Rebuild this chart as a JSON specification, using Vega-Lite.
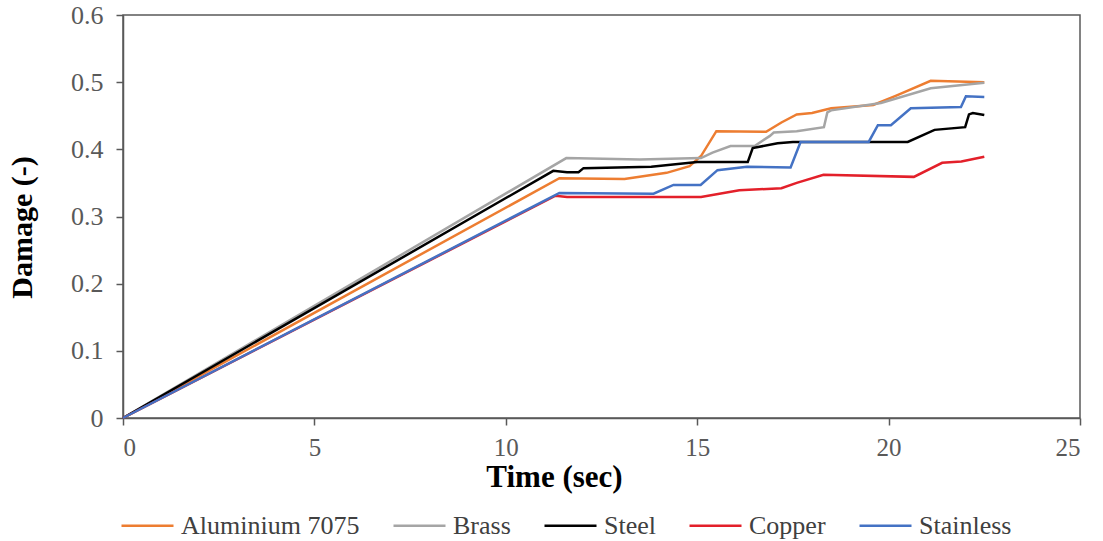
{
  "$schema": "https://vega.github.io/schema/vega-lite/v6.json",
  "width": 957,
  "height": 403,
  "autosize": {"type": "none"},
  "padding": {"left": 123, "top": 15, "right": 23, "bottom": 123},
  "background": "white",
  "config": {
    "view": {"stroke": "#595959", "strokeWidth": 1.5},
    "font": "Liberation Serif"
  },
  "data": {
    "values": [
      {"s": "Aluminium 7075", "t": 0, "d": 0},
      {"s": "Aluminium 7075", "t": 11.4, "d": 0.357},
      {"s": "Aluminium 7075", "t": 13.1, "d": 0.356},
      {"s": "Aluminium 7075", "t": 14.2, "d": 0.365},
      {"s": "Aluminium 7075", "t": 14.8, "d": 0.375},
      {"s": "Aluminium 7075", "t": 15.1, "d": 0.39},
      {"s": "Aluminium 7075", "t": 15.5, "d": 0.427},
      {"s": "Aluminium 7075", "t": 16.8, "d": 0.426},
      {"s": "Aluminium 7075", "t": 17.2, "d": 0.44},
      {"s": "Aluminium 7075", "t": 17.6, "d": 0.452},
      {"s": "Aluminium 7075", "t": 18.0, "d": 0.454},
      {"s": "Aluminium 7075", "t": 18.5, "d": 0.461},
      {"s": "Aluminium 7075", "t": 19.6, "d": 0.466},
      {"s": "Aluminium 7075", "t": 20.2, "d": 0.48},
      {"s": "Aluminium 7075", "t": 21.1, "d": 0.502},
      {"s": "Aluminium 7075", "t": 22.5, "d": 0.5},
      {"s": "Brass", "t": 0, "d": 0},
      {"s": "Brass", "t": 11.58, "d": 0.387},
      {"s": "Brass", "t": 13.5, "d": 0.385},
      {"s": "Brass", "t": 15.1, "d": 0.387},
      {"s": "Brass", "t": 15.4, "d": 0.395},
      {"s": "Brass", "t": 15.87, "d": 0.405},
      {"s": "Brass", "t": 16.5, "d": 0.405},
      {"s": "Brass", "t": 16.9, "d": 0.42},
      {"s": "Brass", "t": 17.0, "d": 0.425},
      {"s": "Brass", "t": 17.6, "d": 0.427},
      {"s": "Brass", "t": 18.31, "d": 0.433},
      {"s": "Brass", "t": 18.4, "d": 0.455},
      {"s": "Brass", "t": 18.5, "d": 0.458},
      {"s": "Brass", "t": 19.8, "d": 0.469},
      {"s": "Brass", "t": 21.1, "d": 0.491},
      {"s": "Brass", "t": 22.5, "d": 0.499},
      {"s": "Steel", "t": 0, "d": 0},
      {"s": "Steel", "t": 11.24, "d": 0.368},
      {"s": "Steel", "t": 11.6, "d": 0.366},
      {"s": "Steel", "t": 11.9, "d": 0.366},
      {"s": "Steel", "t": 12.03, "d": 0.372},
      {"s": "Steel", "t": 13.8, "d": 0.374},
      {"s": "Steel", "t": 15.0, "d": 0.381},
      {"s": "Steel", "t": 16.32, "d": 0.381},
      {"s": "Steel", "t": 16.45, "d": 0.402},
      {"s": "Steel", "t": 17.1, "d": 0.409},
      {"s": "Steel", "t": 17.5, "d": 0.411},
      {"s": "Steel", "t": 20.5, "d": 0.411},
      {"s": "Steel", "t": 21.2, "d": 0.429},
      {"s": "Steel", "t": 22.0, "d": 0.433},
      {"s": "Steel", "t": 22.1, "d": 0.452},
      {"s": "Steel", "t": 22.2, "d": 0.454},
      {"s": "Steel", "t": 22.5, "d": 0.451},
      {"s": "Copper", "t": 0, "d": 0},
      {"s": "Copper", "t": 11.3, "d": 0.331},
      {"s": "Copper", "t": 11.6, "d": 0.329},
      {"s": "Copper", "t": 15.1, "d": 0.329},
      {"s": "Copper", "t": 16.1, "d": 0.339},
      {"s": "Copper", "t": 17.2, "d": 0.342},
      {"s": "Copper", "t": 17.6, "d": 0.35},
      {"s": "Copper", "t": 18.3, "d": 0.362},
      {"s": "Copper", "t": 20.66, "d": 0.359},
      {"s": "Copper", "t": 21.4, "d": 0.38},
      {"s": "Copper", "t": 21.9, "d": 0.382},
      {"s": "Copper", "t": 22.5, "d": 0.389},
      {"s": "Stainless", "t": 0, "d": 0},
      {"s": "Stainless", "t": 11.4, "d": 0.335},
      {"s": "Stainless", "t": 13.86, "d": 0.334},
      {"s": "Stainless", "t": 14.38, "d": 0.347},
      {"s": "Stainless", "t": 15.09, "d": 0.347},
      {"s": "Stainless", "t": 15.53, "d": 0.369},
      {"s": "Stainless", "t": 16.3, "d": 0.374},
      {"s": "Stainless", "t": 17.44, "d": 0.373},
      {"s": "Stainless", "t": 17.7, "d": 0.411},
      {"s": "Stainless", "t": 19.48, "d": 0.411},
      {"s": "Stainless", "t": 19.72, "d": 0.436},
      {"s": "Stainless", "t": 20.06, "d": 0.436},
      {"s": "Stainless", "t": 20.58, "d": 0.461},
      {"s": "Stainless", "t": 21.89, "d": 0.463},
      {"s": "Stainless", "t": 22.02, "d": 0.479},
      {"s": "Stainless", "t": 22.5, "d": 0.478}
    ]
  },
  "mark": {"type": "line", "strokeWidth": 2.5},
  "encoding": {
    "x": {
      "field": "t", "type": "quantitative",
      "scale": {"domain": [0, 25], "nice": false},
      "axis": {
        "values": [0, 5, 10, 15, 20, 25],
        "grid": false,
        "title": "Time (sec)",
        "titleFont": "Liberation Serif", "titleFontSize": 31, "titleFontWeight": "bold", "titleColor": "black",
        "titlePadding": 2,
        "titleX": 431,
        "labelFont": "Liberation Serif", "labelFontSize": 25, "labelColor": "#595959",
        "labelPadding": 10,
        "domainColor": "#595959", "domainWidth": 1.5,
        "tickColor": "#595959", "tickSize": 7, "tickWidth": 1.5
      }
    },
    "y": {
      "field": "d", "type": "quantitative",
      "scale": {"domain": [0, 0.6], "nice": false},
      "axis": {
        "values": [0, 0.1, 0.2, 0.3, 0.4, 0.5, 0.6],
        "format": "~g",
        "grid": false,
        "title": "Damage (-)",
        "titleFont": "Liberation Serif", "titleFontSize": 30, "titleFontWeight": "bold", "titleColor": "black",
        "titlePadding": 33,
        "titleY": 212,
        "labelFont": "Liberation Serif", "labelFontSize": 26, "labelColor": "#595959",
        "labelPadding": 13,
        "domainColor": "#595959", "domainWidth": 1.5,
        "tickColor": "#595959", "tickSize": 7, "tickWidth": 1.5
      }
    },
    "color": {
      "field": "s", "type": "nominal",
      "scale": {
        "domain": ["Aluminium 7075", "Brass", "Steel", "Copper", "Stainless"],
        "range": ["#ED7D31", "#A5A5A5", "#000000", "#E3202A", "#4472C4"]
      },
      "legend": {
        "title": null,
        "orient": "none",
        "legendX": -3,
        "legendY": 483,
        "direction": "horizontal",
        "columns": 5,
        "symbolType": "stroke",
        "symbolStrokeWidth": 2.5,
        "symbolSize": 2704,
        "labelFont": "Liberation Serif", "labelFontSize": 26, "labelColor": "#404040",
        "labelLimit": 400,
        "labelOffset": 6,
        "columnPadding": 28
      }
    }
  }
}
